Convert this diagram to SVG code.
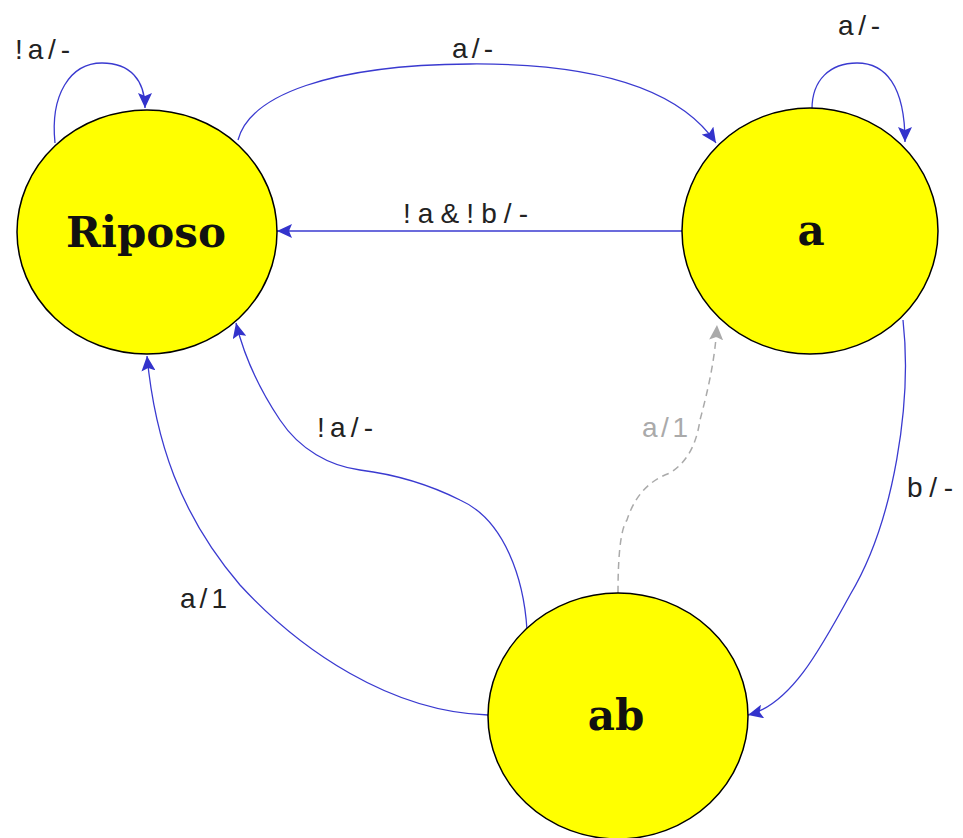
<svg xmlns="http://www.w3.org/2000/svg" width="963" height="838" viewBox="0 0 963 838">
<style>
.node{fill:#ffff00;stroke:#000;stroke-width:1.5}
.nt{font-family:"DejaVu Serif",serif;font-weight:bold;font-size:42px;fill:#111;text-anchor:middle}
.e{fill:none;stroke:#3a3ad0;stroke-width:1.3}
.g{fill:none;stroke:#aaaaaa;stroke-width:1.5;stroke-dasharray:7 5}
.lb{font-family:"Liberation Sans",Arial,sans-serif;font-size:28px;fill:#222}
.lg{font-family:"Liberation Sans",Arial,sans-serif;font-size:28px;fill:#aaaaaa}
</style>
<defs>
<marker id="ab" markerUnits="userSpaceOnUse" markerWidth="16" markerHeight="14" refX="15" refY="7" orient="auto"><path d="M0,0 L15,7 L0,14 L3,7 z" fill="#3333cc"/></marker>
<marker id="ag" markerUnits="userSpaceOnUse" markerWidth="16" markerHeight="14" refX="15" refY="7" orient="auto"><path d="M0,0 L15,7 L0,14 L3,7 z" fill="#aaaaaa"/></marker>
</defs>
<rect width="963" height="838" fill="#fff"/>
<g id="edges">
<path class="e" d="M55,143 C50,95 70,63 102,63 C130,63 145,80 145,108" marker-end="url(#ab)"/>
<path class="e" d="M238,140 C250,95 330,65 470,64 C600,63 680,90 716,143" marker-end="url(#ab)"/>
<path class="e" d="M812,109 C812,80 830,63 857,63 C885,63 905,85 905,142" marker-end="url(#ab)"/>
<path class="e" d="M682,231 L277,231" marker-end="url(#ab)"/>
<path class="e" d="M903,320 C912,400 895,520 850,595 C820,650 790,705 748,715" marker-end="url(#ab)"/>
<path class="e" d="M488,715 C390,712 300,650 240,585 C180,515 155,440 147,356" marker-end="url(#ab)"/>
<path class="e" d="M527,630 C524,580 505,520 460,500 C430,485 400,475 360,470 C330,466 300,450 280,420 C260,390 245,360 236,323" marker-end="url(#ab)"/>
<path class="g" d="M618,593 C618,560 620,530 627,520 C635,495 650,480 670,473 C690,460 697,440 700,420 C708,390 715,360 717,325" marker-end="url(#ag)"/>
<text class="lb" x="15" y="59" textLength="55" lengthAdjust="spacing">!a/-</text>
<text class="lb" x="452" y="58" textLength="41" lengthAdjust="spacing">a/-</text>
<text class="lb" x="838" y="35" textLength="42" lengthAdjust="spacing">a/-</text>
<text class="lb" x="403" y="223" textLength="125" lengthAdjust="spacing">!a&amp;!b/-</text>
<text class="lb" x="907" y="497" textLength="46" lengthAdjust="spacing">b/-</text>
<text class="lb" x="317" y="437" textLength="56" lengthAdjust="spacing">!a/-</text>
<text class="lb" x="180" y="608" textLength="47" lengthAdjust="spacing">a/1</text>
<text class="lg" x="642" y="437" textLength="46" lengthAdjust="spacing">a/1</text>
</g>
<g id="riposo">
<ellipse class="node" cx="147" cy="232" rx="130" ry="122"/>
<text class="nt" x="146" y="247">Riposo</text>
</g>
<g id="a">
<ellipse class="node" cx="810" cy="231" rx="128" ry="123"/>
<text class="nt" x="811" y="245">a</text>
</g>
<g id="abnode">
<ellipse class="node" cx="618" cy="716" rx="130" ry="123"/>
<text class="nt" x="616" y="730">ab</text>
</g>
</svg>
